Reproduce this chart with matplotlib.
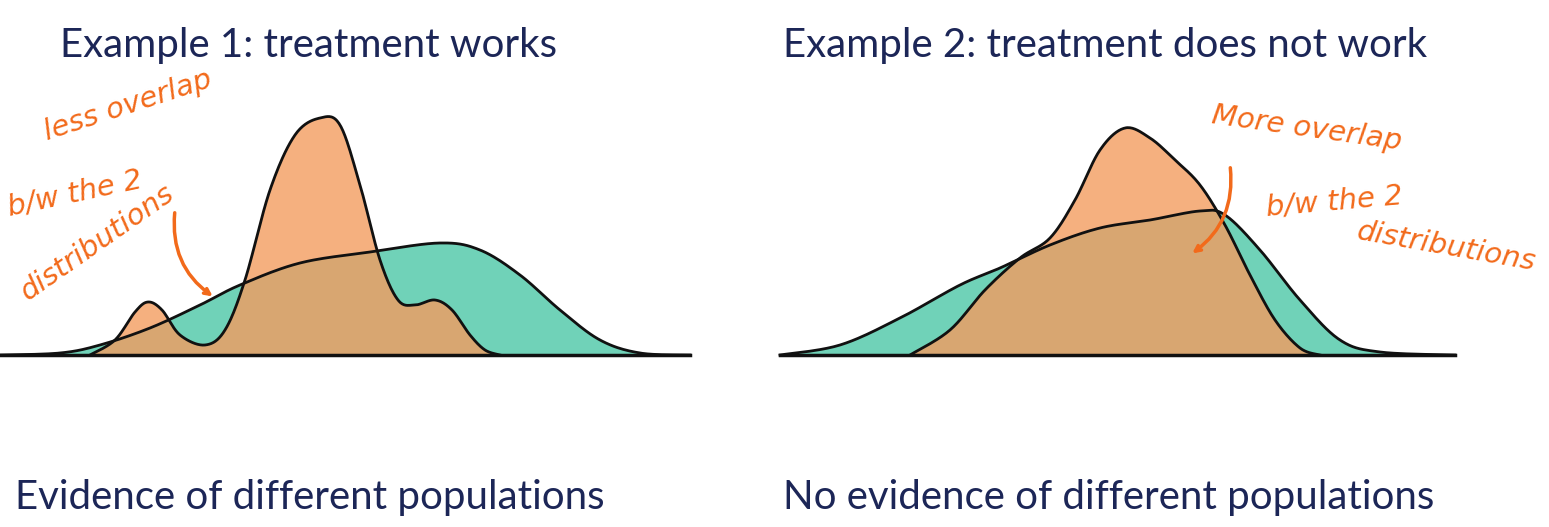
import numpy as np
import matplotlib
matplotlib.use("Agg")
import matplotlib.pyplot as plt

# curve points (pixel x, pixel y; baseline y=355)
p1_teal_x = [0, 60, 100, 150, 200, 240, 300, 370, 440, 480, 520, 560, 600, 640, 690]
p1_teal_y = [355, 353, 345, 328, 305, 285, 263, 252, 243, 250, 275, 310, 340, 353, 355]
p1_orange_x = [90, 115, 135, 148, 162, 180, 205, 225, 245, 270, 295, 320, 340, 360, 380, 398, 415, 435, 452, 470, 485, 500]
p1_orange_y = [355, 340, 312, 302, 310, 335, 345, 330, 280, 190, 135, 118, 125, 185, 260, 300, 305, 300, 310, 335, 350, 355]
p2_teal_x = [780, 840, 900, 960, 1000, 1050, 1100, 1150, 1200, 1225, 1260, 1300, 1340, 1380, 1455]
p2_teal_y = [355, 345, 318, 285, 268, 245, 228, 220, 211, 215, 250, 300, 340, 352, 355]
p2_orange_x = [910, 950, 985, 1020, 1050, 1075, 1100, 1125, 1150, 1175, 1200, 1225, 1250, 1275, 1300, 1320]
p2_orange_y = [355, 330, 290, 258, 238, 200, 150, 128, 138, 160, 185, 225, 275, 320, 348, 355]

titles = ["Example 1: treatment works", "Example 2: treatment does not work"]
subtitles = ["Evidence of different populations", "No evidence of different populations"]

def smooth(x, y, n=20):
    x = np.asarray(x, float); y = np.asarray(y, float)
    P = np.column_stack([x, y])
    P = np.vstack([P[0], P, P[-1]])
    out = []
    for i in range(1, len(P) - 2):
        p0, p1, p2, p3 = P[i-1], P[i], P[i+1], P[i+2]
        for t in np.linspace(0, 1, n, endpoint=False):
            t2, t3 = t*t, t*t*t
            out.append(0.5*((2*p1) + (-p0+p2)*t + (2*p0-5*p1+4*p2-p3)*t2 + (-p0+3*p1-3*p2+p3)*t3))
    out.append(P[-2])
    out = np.array(out)
    return out[:, 0], out[:, 1]

fig = plt.figure(figsize=(15.49, 5.27), dpi=100)
ax = fig.add_axes([0, 0, 1, 1])
ax.set_xlim(0, 1549); ax.set_ylim(527, 0); ax.axis("off")

teal = "#4cc7a6"; orange = "#f39c5f"; navy = "#1c2657"
for tx, ty, ox, oy, x0, x1 in [(p1_teal_x, p1_teal_y, p1_orange_x, p1_orange_y, 0, 690),
                               (p2_teal_x, p2_teal_y, p2_orange_x, p2_orange_y, 780, 1455)]:
    sx, sy = smooth(tx, ty)
    ax.fill_between(sx, sy, 355, color=teal, alpha=0.8, lw=0)
    ax.plot(sx, sy, color="#111111", lw=2)
    sx, sy = smooth(ox, oy)
    ax.fill_between(sx, sy, 355, color=orange, alpha=0.8, lw=0)
    ax.plot(sx, sy, color="#111111", lw=2)
    ax.plot([x0, x1], [355, 355], color="#111111", lw=2.5)

for xc, t in zip([60, 783], titles):
    ax.text(xc, 45, t, fontsize=29, color=navy, va="center", ha="left", family="Lato")
for xc, t in zip([15, 783], subtitles):
    ax.text(xc, 497, t, fontsize=29, color=navy, va="center", ha="left", family="Lato")

hand = "#f26a1b"
ax.text(40, 140, "less overlap", fontsize=21, color=hand, rotation=18, style="italic")
ax.text(5, 215, "b/w the 2", fontsize=21, color=hand, rotation=12, style="italic")
ax.text(15, 300, "distributions", fontsize=21, color=hand, rotation=35, style="italic")
ax.annotate("", xy=(215, 298), xytext=(175, 210),
            arrowprops=dict(arrowstyle="->", color=hand, lw=2.5, connectionstyle="arc3,rad=0.3"))
ax.text(1210, 150, "More overlap", fontsize=21, color=hand, rotation=-8, style="italic")
ax.text(1265, 215, "b/w the 2", fontsize=21, color=hand, rotation=5, style="italic")
ax.text(1355, 270, "distributions", fontsize=21, color=hand, rotation=-10, style="italic")
ax.annotate("", xy=(1190, 255), xytext=(1230, 165),
            arrowprops=dict(arrowstyle="->", color=hand, lw=2.5, connectionstyle="arc3,rad=-0.3"))

fig.savefig("out.png", dpi=100)
